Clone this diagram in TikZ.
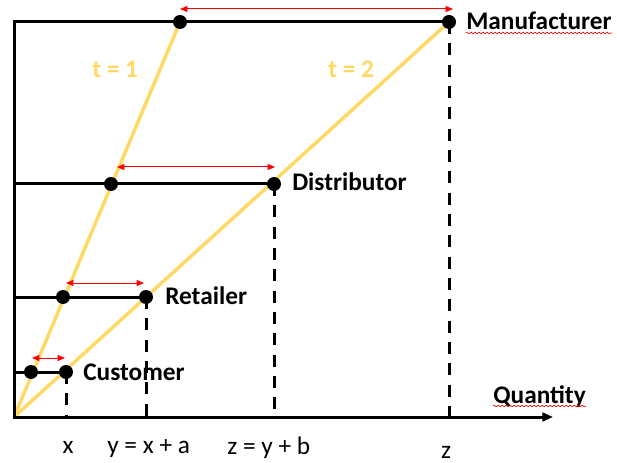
\documentclass[tikz,border=0pt]{standalone}
\usepackage{fontspec}
\setmainfont{Carlito}
\usetikzlibrary{arrows.meta,decorations.pathmorphing,backgrounds}
\definecolor{gold}{HTML}{FFD966}
\definecolor{gapred}{HTML}{FF0000}

\begin{document}
\begin{tikzpicture}[x=0.75pt,y=-0.75pt,
  level/.style={line width=2.25pt, line join=miter},
  ray/.style={gold, line width=2.6pt},
  dot/.style={circle, fill=black, minimum size=10.5pt, inner sep=0pt},
  dashline/.style={line width=2.25pt, dash pattern=on 9pt off 7pt},
  gap/.style={gapred, line width=0.75pt,
    {Triangle[length=5.5pt,width=4.5pt]}-{Triangle[length=5.5pt,width=4.5pt]}},
  stage/.style={anchor=base west, inner sep=0pt,
    font=\fontsize{19}{22}\selectfont\bfseries},
  period/.style={anchor=base west, inner sep=0pt, text=gold,
    font=\fontsize{19}{22}\selectfont\bfseries},
  tick/.style={inner sep=0pt, font=\fontsize{19}{22}\selectfont},
  squiggle/.style={gapred, line width=0.45pt, decorate,
    decoration={snake, amplitude=0.6pt, segment length=3pt}}
]
\useasboundingbox (0,0) rectangle (617,463);

% frame corners and axis end
\coordinate (TL) at (14,22);
\coordinate (O) at (14,417);
\coordinate (AxEnd) at (553,417);

% stage points
\node[dot] (m1) at (180,22) {};
\node[dot] (m2) at (449,22) {};
\node[dot] (d1) at (111,184) {};
\node[dot] (d2) at (274,184) {};
\node[dot] (r1) at (63,297) {};
\node[dot] (r2) at (146,297) {};
\node[dot] (c1) at (31,372) {};
\node[dot] (c2) at (66,372) {};

\begin{scope}[on background layer]
  % time lines
  \draw[ray] (O) -- (m1.center);
  \draw[ray] (O) -- (m2.center);
  % frame, top level and quantity axis
  \draw[level, -{Triangle[length=8pt,width=6.5pt]}]
    (m2.center) -- (TL) -- (O) -- (AxEnd);
  % stage levels
  \draw[level] (d1 -| TL) -- (d2.center);
  \draw[level] (r1 -| TL) -- (r2.center);
  \draw[level] (c1 -| TL) -- (c2.center);
  % drops to the quantity axis
  \draw[dashline] (m2.center) -- (m2 |- O);
  \draw[dashline] (d2.center) -- (d2 |- O);
  \draw[dashline] (r2.center) -- (r2 |- O);
  \draw[dashline] (c2.center) -- (c2 |- O);
\end{scope}

% gaps between the two time lines
\coordinate (gm1) at (180,9);   \coordinate (gm2) at (453,9);
\coordinate (gd1) at (117,167); \coordinate (gd2) at (275,167);
\coordinate (gr1) at (66,283);  \coordinate (gr2) at (144,283);
\coordinate (gc1) at (32,358);  \coordinate (gc2) at (65,358);
\draw[gap] (gm1) -- (gm2);
\draw[gap] (gd1) -- (gd2);
\draw[gap] (gr1) -- (gr2);
\draw[gap] (gc1) -- (gc2);

% stage labels
\node[stage] (lm) at (466,30) {Manufacturer};
\node[stage] (ld) at (292,191) {Distributor};
\node[stage] (lr) at (165,304) {Retailer};
\node[stage] (lc) at (83,380) {Customer};
\node[stage] (lq) at (493,403) {Quantity};
\draw[squiggle] (lm.base west) ++(0,3) coordinate (sm1) -- (sm1 -| lm.east);
\draw[squiggle] (lq.base west) ++(0,3) coordinate (sq1) -- (sq1 -| lq.east);

% time labels
\node[period] (t1) at (92,78) {t = 1};
\node[period] (t2) at (328,78) {t = 2};

% quantity marks
\node[tick, anchor=base] (qx) at (68,453) {x};
\node[tick, anchor=base west] (qy) at (107,453) {y = x + a};
\node[tick, anchor=base west] (qz) at (227,454) {z = y + b};
\node[tick, anchor=base] (qzz) at (446,458) {z};
\end{tikzpicture}
\end{document}
